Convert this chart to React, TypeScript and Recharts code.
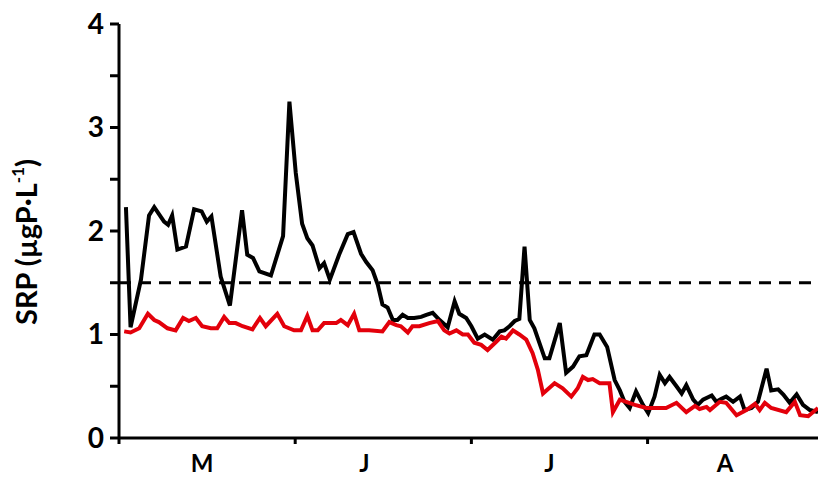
import React from 'react';
import { LineChart, Line, XAxis, YAxis, ReferenceLine } from 'recharts';

// days since 1 May, SRP in µgP/L
const blackDays = [1.2, 2.0, 3.8, 5.2, 6.1, 7.8, 8.5, 9.2, 10.1, 11.6, 13.0, 14.3, 15.2, 16.0, 17.6, 19.2, 21.3, 22.2, 23.2, 24.3, 26.3, 28.4, 29.5, 30.6, 31.7, 32.6, 33.5, 34.7, 35.5, 36.5, 38.1, 39.6, 40.6, 41.9, 42.8, 43.9, 44.8, 45.6, 46.5, 47.4, 48.2, 49.1, 50.0, 51.1, 52.3, 53.2, 54.3, 55.5, 56.9, 58.1, 58.9, 60.1, 61.0, 62.1, 63.3, 64.7, 65.9, 66.7, 67.6, 68.5, 69.3, 70.2, 71.1, 71.9, 73.7, 74.5, 76.3, 77.4, 78.6, 79.7, 80.9, 82.3, 83.2, 84.5, 85.8, 86.7, 87.5, 88.4, 89.5, 90.7, 91.6, 92.7, 93.6, 94.5, 95.3, 96.5, 97.4, 98.2, 99.4, 100.2, 101.1, 102.6, 103.4, 104.3, 105.1, 106.3, 107.5, 108.3, 109.5, 110.6, 112.1, 112.9, 114.1, 115.0, 116.1, 117.3, 118.4, 119.6, 121.0];
const blackVals = [2.23, 1.07, 1.53, 2.15, 2.23, 2.09, 2.06, 2.15, 1.82, 1.85, 2.21, 2.19, 2.09, 2.14, 1.56, 1.28, 2.2, 1.77, 1.74, 1.61, 1.57, 1.95, 3.25, 2.56, 2.07, 1.93, 1.86, 1.64, 1.69, 1.53, 1.77, 1.97, 1.99, 1.78, 1.70, 1.62, 1.48, 1.29, 1.26, 1.14, 1.14, 1.19, 1.16, 1.16, 1.17, 1.19, 1.21, 1.14, 1.07, 1.32, 1.20, 1.16, 1.08, 0.96, 1.00, 0.95, 1.03, 1.04, 1.08, 1.13, 1.15, 1.85, 1.14, 1.06, 0.77, 0.77, 1.11, 0.63, 0.69, 0.79, 0.80, 1.00, 1.00, 0.88, 0.56, 0.46, 0.35, 0.29, 0.45, 0.32, 0.24, 0.40, 0.61, 0.53, 0.59, 0.50, 0.43, 0.51, 0.37, 0.32, 0.37, 0.41, 0.35, 0.38, 0.40, 0.35, 0.40, 0.27, 0.29, 0.35, 0.67, 0.46, 0.47, 0.42, 0.34, 0.42, 0.32, 0.27, 0.25];

const redDays = [0.9, 2.0, 3.5, 5.0, 6.1, 6.9, 8.4, 9.8, 11.1, 12.1, 13.3, 14.4, 15.9, 17.0, 18.2, 19.1, 20.2, 21.4, 23.1, 24.4, 25.4, 27.4, 28.6, 30.3, 31.5, 32.6, 33.5, 34.4, 35.5, 37.6, 38.4, 39.6, 40.7, 41.6, 43.3, 45.6, 46.8, 48.0, 48.8, 50.0, 50.8, 52.0, 53.7, 55.2, 56.3, 57.2, 58.4, 59.5, 60.4, 61.5, 62.7, 63.8, 65.3, 66.2, 67.0, 68.2, 69.3, 70.5, 71.6, 72.5, 73.4, 75.4, 76.8, 78.3, 79.4, 80.3, 81.2, 82.0, 83.2, 84.4, 84.9, 85.5, 86.7, 87.8, 89.3, 91.3, 94.7, 96.5, 98.2, 99.7, 100.5, 101.7, 102.3, 104.0, 105.1, 106.9, 108.6, 110.1, 110.9, 111.8, 112.9, 115.5, 117.0, 117.9, 119.3, 121.0];
const redVals = [1.03, 1.02, 1.06, 1.20, 1.14, 1.12, 1.06, 1.04, 1.16, 1.13, 1.16, 1.08, 1.06, 1.06, 1.17, 1.11, 1.11, 1.08, 1.05, 1.16, 1.08, 1.20, 1.08, 1.04, 1.04, 1.18, 1.04, 1.04, 1.11, 1.11, 1.14, 1.09, 1.20, 1.04, 1.04, 1.03, 1.12, 1.09, 1.08, 1.02, 1.08, 1.08, 1.11, 1.13, 1.04, 1.01, 1.04, 1.00, 1.00, 0.92, 0.90, 0.85, 0.93, 0.98, 0.96, 1.04, 1.00, 0.95, 0.82, 0.66, 0.43, 0.53, 0.48, 0.40, 0.48, 0.59, 0.56, 0.57, 0.53, 0.53, 0.53, 0.25, 0.37, 0.35, 0.32, 0.29, 0.29, 0.34, 0.25, 0.31, 0.28, 0.30, 0.27, 0.35, 0.34, 0.22, 0.27, 0.33, 0.27, 0.34, 0.29, 0.25, 0.35, 0.22, 0.21, 0.29];

const threshold = 1.5;

const monthStarts = [0, 30.5, 61, 91.5];
const monthLabelPos = [14.4, 42.5, 74.5, 104.9];
const monthLabels = ['M', 'J', 'J', 'A'];

const yTicks = [0, 0.5, 1, 1.5, 2, 2.5, 3, 3.5, 4];

const blackData = blackDays.map((d, i) => ({ d, v: blackVals[i] }));
const redData = redDays.map((d, i) => ({ d, v: redVals[i] }));

const FONT = 'Lato, "Open Sans", sans-serif';
const axisStroke = { stroke: '#000', strokeWidth: 3 };
const PX_PER_DAY = 699 / 121;

// month names sit between the month-start ticks
const MonthTick = (props: any) => {
  const { x, y, index } = props;
  const shift = (monthLabelPos[index] - monthStarts[index]) * PX_PER_DAY;
  return (
    <text
      x={x + shift}
      y={y + 26}
      textAnchor="middle"
      fill="#000"
      fontSize={24}
      fontWeight={700}
      fontFamily={FONT}
    >
      {monthLabels[index]}
    </text>
  );
};

export default function App() {
  return (
    <div style={{ position: 'absolute', left: 0, top: 0, background: '#fff' }}>
      <LineChart
        width={818}
        height={479}
        margin={{ top: 24, right: 0, bottom: 0, left: 0 }}
      >
        <XAxis
          dataKey="d"
          type="number"
          domain={[0, 121]}
          ticks={monthStarts}
          interval={0}
          axisLine={axisStroke}
          tickLine={axisStroke}
          tickSize={6}
          height={41}
          tick={<MonthTick />}
          allowDataOverflow
        />
        <YAxis
          type="number"
          domain={[0, 4]}
          ticks={yTicks}
          interval={0}
          width={119}
          tickFormatter={(v: number) => (Number.isInteger(v) ? String(v) : '')}
          axisLine={axisStroke}
          tickLine={axisStroke}
          tickSize={9}
          tickMargin={6}
          tick={{ fill: '#000', fontSize: 28, fontWeight: 700, fontFamily: FONT }}
          label={{
            content: () => (
              <text
                x={30}
                y={242}
                transform="rotate(-90 30 242)"
                textAnchor="middle"
                dominantBaseline="middle"
                fill="#000"
                fontSize={29}
                fontWeight={700}
                fontFamily={FONT}
              >
                SRP (µgP·L
                <tspan dy={-10} fontSize={17}>-1</tspan>
                <tspan dy={10}>)</tspan>
              </text>
            ),
          }}
        />
        <ReferenceLine
          y={threshold}
          stroke="#000"
          strokeWidth={3}
          strokeDasharray="12 8"
        />
        <Line
          data={blackData}
          dataKey="v"
          type="linear"
          stroke="#000"
          strokeWidth={4}
          dot={false}
          isAnimationActive={false}
        />
        <Line
          data={redData}
          dataKey="v"
          type="linear"
          stroke="#e3000b"
          strokeWidth={4}
          dot={false}
          isAnimationActive={false}
        />
      </LineChart>
    </div>
  );
}
